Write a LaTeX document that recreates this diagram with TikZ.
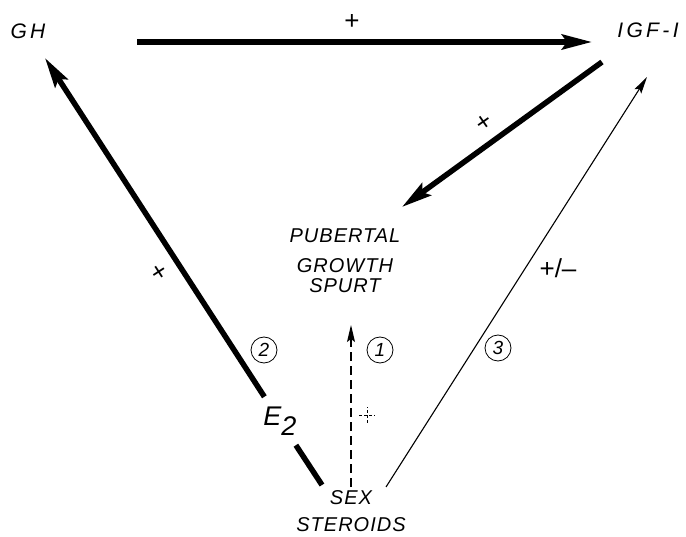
\documentclass[tikz,border=0pt]{standalone}
\usepackage{fontspec}
\setmainfont{Liberation Sans}
\newfontfamily\capsfont[LetterSpace=5]{Liberation Sans}
\newfontfamily\widefont[LetterSpace=16]{Liberation Sans}
\usetikzlibrary{arrows.meta}
\begin{document}
\begin{tikzpicture}[x=1pt,y=-1pt,
  lbl/.style={inner sep=0pt,outer sep=0pt,font=\capsfont\itshape\fontsize{20}{20}\selectfont},
  num/.style={circle,draw,line width=0.8pt,inner sep=0pt,minimum size=26pt,font=\itshape\fontsize{19}{19}\selectfont},
  sgn/.style={inner sep=0pt,outer sep=0pt,font=\fontsize{26}{26}\selectfont},
  heavy/.style={line width=5.5pt},
  light/.style={line width=1.1pt},
  bigtip/.style={-{Stealth[length=30pt,width=15pt,inset=5pt]}},
  smalltip/.style={-{Stealth[length=17pt,width=8pt,inset=3pt]}}]
\path[use as bounding box] (0,0) rectangle (686,537);
% hormones and effect
\node[lbl,font=\widefont\itshape\fontsize{21}{21}\selectfont] (gh) at (28,31) {GH};
\node[lbl,font=\widefont\itshape\fontsize{21}{21}\selectfont] (igf) at (648,30) {IGF-I};
\node[lbl,align=center] (pgs) at (345,261) {PUBERTAL\\[10pt]GROWTH\\SPURT};
\node[lbl,align=center,font=\capsfont\itshape\fontsize{20}{27}\selectfont] (sex) at (351,511) {SEX\\STEROIDS};
\node[inner sep=0pt,minimum width=32pt,minimum height=48pt,font=\itshape\fontsize{27}{27}\selectfont] (e2) at (280,421) {E\raisebox{-10pt}{2}};
% connector ends
\coordinate (gh-out) at (137,42);
\coordinate (igf-top) at (592,42);
\coordinate (gh-in) at (45,58);
\coordinate (e2-foot) at (322,485);
\coordinate (igf-out) at (602,62);
\coordinate (pgs-in) at (402,207);
\coordinate (sex-out) at (386,487);
\coordinate (igf-in) at (647,77);
\coordinate (sex-top) at (351,487);
\coordinate (pgs-low) at (351,325);
% pathways
\draw[heavy,bigtip] (gh-out) -- (igf-top);
\draw[heavy,bigtip] (igf-out) -- (pgs-in);
\draw[heavy,bigtip] (e2) -- (gh-in);
\draw[heavy] (e2) -- (e2-foot);
\draw[light,smalltip] (sex-out) -- (igf-in);
\draw[light,dash pattern=on 9pt off 5pt,smalltip] (sex-top) -- (pgs-low);
% signs
\node[sgn] (plus-top) at (352,22) {+};
\node[sgn,rotate=35] (plus-igf) at (484,123) {+};
\node[sgn,rotate=33] (plus-gh) at (160,273) {+};
\node[sgn] (plus-minus) at (558,268) {+/--};
\coordinate (plus-sex) at (367,415);
\draw[line width=0.8pt,dash pattern=on 3pt off 2pt] ([xshift=-8pt]plus-sex) -- ([xshift=8pt]plus-sex) ([yshift=-8pt]plus-sex) -- ([yshift=8pt]plus-sex);
% routes
\node[num] (one) at (380,350) {1};
\node[num] (two) at (264,350) {2};
\node[num] (three) at (498,348) {3};
\end{tikzpicture}
\end{document}
